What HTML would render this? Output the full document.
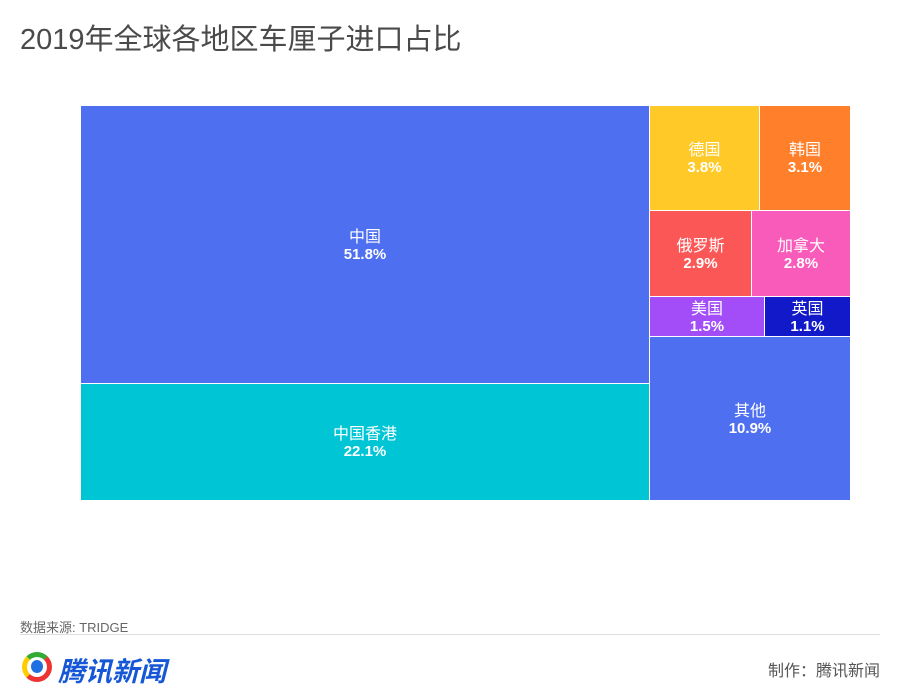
<!DOCTYPE html>
<html><head><meta charset="utf-8"><style>
body{margin:0;width:900px;height:700px;background:#fff;position:relative;font-family:"Liberation Sans","Noto Sans CJK SC",sans-serif;overflow:hidden}
.t{position:absolute;left:20px;top:16px;font-size:29px;color:#4a4a4a}
.b{position:absolute;box-sizing:border-box;border:1px solid #fff;display:flex;flex-direction:column;align-items:center;justify-content:center;color:#fff;font-size:16px;line-height:17px;text-align:center;padding-top:2px}
.b span{font-weight:bold;font-size:15px}
</style></head><body>
<div class="t">2019年全球各地区车厘子进口占比</div>
<div class="b" style="left:80px;top:105px;width:570px;height:279px;background:#4e6ff0">中国<span>51.8%</span></div>
<div class="b" style="left:80px;top:383px;width:570px;height:118px;background:#00c5d5">中国香港<span>22.1%</span></div>
<div class="b" style="left:649px;top:105px;width:111px;height:106px;background:#ffca28">德国<span>3.8%</span></div>
<div class="b" style="left:759px;top:105px;width:92px;height:106px;background:#ff7f2a">韩国<span>3.1%</span></div>
<div class="b" style="left:649px;top:210px;width:103px;height:87px;background:#fb5757">俄罗斯<span>2.9%</span></div>
<div class="b" style="left:751px;top:210px;width:100px;height:87px;background:#f95bbb">加拿大<span>2.8%</span></div>
<div class="b" style="left:649px;top:296px;width:116px;height:41px;background:#a24df8">美国<span>1.5%</span></div>
<div class="b" style="left:764px;top:296px;width:87px;height:41px;background:#1219c9">英国<span>1.1%</span></div>
<div class="b" style="left:649px;top:336px;width:202px;height:165px;background:#4e6ff0">其他<span>10.9%</span></div>
<div style="position:absolute;left:20px;top:617px;font-size:13px;color:#666">数据来源: TRIDGE</div>
<div style="position:absolute;left:20px;top:634px;width:860px;height:1px;background:#ddd"></div>
<div style="position:absolute;left:22px;top:652px;width:30px;height:30px;border-radius:50%;border:5px solid #e33;border-top-color:#3a3;border-left-color:#fc0;box-sizing:border-box"></div>
<div style="position:absolute;left:31px;top:660px;width:12px;height:13px;border-radius:50%;background:#1e6fe0"></div>
<div style="position:absolute;left:58px;top:650px;font-size:27px;font-weight:bold;font-style:italic;color:#1657d8">腾讯新闻</div>
<div style="position:absolute;right:20px;top:657px;font-size:16px;color:#555">制作：腾讯新闻</div>
</body></html>
